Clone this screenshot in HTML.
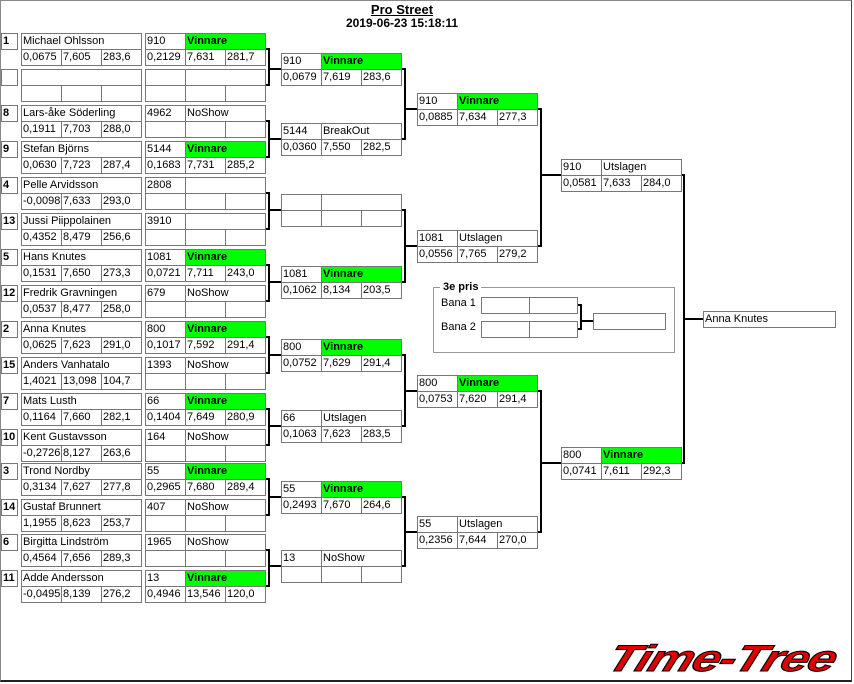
<!DOCTYPE html>
<html><head><meta charset="utf-8"><style>
html,body{margin:0;padding:0;background:#fff}
body{width:854px;height:684px;position:relative;overflow:hidden;font-family:"Liberation Sans",sans-serif;font-size:11px;color:#000}
.fr{position:absolute;left:0;top:0;width:852px;height:682px;border-top:1px solid #888;border-left:1px solid #888;border-right:1px solid #444;border-bottom:2px solid #222;box-sizing:border-box}
.m,.n{position:absolute;width:121px;height:33px}
.m span,.n span,.s{position:absolute;box-sizing:border-box;border:1px solid #777;height:17px;line-height:15px;padding-left:1px;white-space:nowrap;overflow:hidden;background:#fff}
.m span:nth-child(1){left:0;top:0;width:41px}
.m span:nth-child(2){left:40px;top:0;width:81px}
.m span:nth-child(3){left:0;top:16px;width:41px}
.m span:nth-child(4){left:40px;top:16px;width:41px}
.m span:nth-child(5){left:80px;top:16px;width:41px}
.n span:nth-child(1){left:0;top:0;width:121px}
.n span:nth-child(2){left:0;top:16px;width:41px}
.n span:nth-child(3){left:40px;top:16px;width:41px}
.n span:nth-child(4){left:80px;top:16px;width:41px}
.m span.w{background:#00ff00;font-weight:bold}
.s{width:17px;left:1px;font-weight:bold}
svg{position:absolute;left:0;top:0}
</style></head><body>
<div class="fr"></div>
<div style="position:absolute;left:0;width:804px;top:2px;text-align:center;font-weight:bold;font-size:13px;text-decoration:underline">Pro Street</div>
<div style="position:absolute;left:0;width:804px;top:16px;text-align:center;font-weight:bold;font-size:12px">2019-06-23 15:18:11</div>
<svg width="854" height="684">
<g stroke="#000" stroke-width="2" fill="none">
<path d="M265 49H269V85H265M269 69H281"/>
<path d="M265 121H269V157H265M269 139H281"/>
<path d="M265 193H269V229H265M269 210H281"/>
<path d="M265 265H269V301H265M269 282H281"/>
<path d="M265 337H269V373H265M269 355H281"/>
<path d="M265 409H269V445H265M269 426H281"/>
<path d="M265 479H269V515H265M269 497H281"/>
<path d="M265 550H269V586H265M269 566H281"/>
<path d="M401 69H405V139H401M405 109H417"/>
<path d="M401 210H405V282H401M405 246H417"/>
<path d="M401 355H405V426H401M405 391H417"/>
<path d="M401 497H405V566H401M405 532H417"/>
<path d="M537 109H541V246H537M541 175H561"/>
<path d="M537 391H541V532H537M541 463H561"/>
<path d="M681 175H684V463H681M684 319H703"/>
<path d="M577 305H581V329H577M581 321H593"/>
</g>
<rect x="433.5" y="287.5" width="241" height="65" fill="none" stroke="#999"/>
</svg>
<div style="position:absolute;left:440px;top:281px;background:#fff;padding:0 3px;font-weight:bold">3e pris</div>
<div style="position:absolute;left:441px;top:297px">Bana 1</div>
<div style="position:absolute;left:441px;top:321px">Bana 2</div>
<div class="s" style="left:481px;top:297px;width:49px"></div><div class="s" style="left:529px;top:297px;width:49px"></div>
<div class="s" style="left:481px;top:321px;width:49px"></div><div class="s" style="left:529px;top:321px;width:49px"></div>
<div class="s" style="left:593px;top:313px;width:73px"></div>
<div class="s" style="left:703px;top:311px;width:133px;font-weight:normal">Anna Knutes</div>

<div class="s" style="top:33px">1</div><div class="n" style="left:21px;top:33px"><span>Michael Ohlsson</span><span>0,0675</span><span>7,605</span><span>283,6</span></div><div class="m" style="left:145px;top:33px"><span>910</span><span class="w">Vinnare</span><span>0,2129</span><span>7,631</span><span>281,7</span></div>
<div class="s" style="top:69px"></div><div class="n" style="left:21px;top:69px"><span></span><span></span><span></span><span></span></div><div class="m" style="left:145px;top:69px"><span></span><span></span><span></span><span></span><span></span></div>
<div class="s" style="top:105px">8</div><div class="n" style="left:21px;top:105px"><span>Lars-åke Söderling</span><span>0,1911</span><span>7,703</span><span>288,0</span></div><div class="m" style="left:145px;top:105px"><span>4962</span><span>NoShow</span><span></span><span></span><span></span></div>
<div class="s" style="top:141px">9</div><div class="n" style="left:21px;top:141px"><span>Stefan Björns</span><span>0,0630</span><span>7,723</span><span>287,4</span></div><div class="m" style="left:145px;top:141px"><span>5144</span><span class="w">Vinnare</span><span>0,1683</span><span>7,731</span><span>285,2</span></div>
<div class="s" style="top:177px">4</div><div class="n" style="left:21px;top:177px"><span>Pelle Arvidsson</span><span>-0,0098</span><span>7,633</span><span>293,0</span></div><div class="m" style="left:145px;top:177px"><span>2808</span><span></span><span></span><span></span><span></span></div>
<div class="s" style="top:213px">13</div><div class="n" style="left:21px;top:213px"><span>Jussi Piippolainen</span><span>0,4352</span><span>8,479</span><span>256,6</span></div><div class="m" style="left:145px;top:213px"><span>3910</span><span></span><span></span><span></span><span></span></div>
<div class="s" style="top:249px">5</div><div class="n" style="left:21px;top:249px"><span>Hans Knutes</span><span>0,1531</span><span>7,650</span><span>273,3</span></div><div class="m" style="left:145px;top:249px"><span>1081</span><span class="w">Vinnare</span><span>0,0721</span><span>7,711</span><span>243,0</span></div>
<div class="s" style="top:285px">12</div><div class="n" style="left:21px;top:285px"><span>Fredrik Gravningen</span><span>0,0537</span><span>8,477</span><span>258,0</span></div><div class="m" style="left:145px;top:285px"><span>679</span><span>NoShow</span><span></span><span></span><span></span></div>
<div class="s" style="top:321px">2</div><div class="n" style="left:21px;top:321px"><span>Anna Knutes</span><span>0,0625</span><span>7,623</span><span>291,0</span></div><div class="m" style="left:145px;top:321px"><span>800</span><span class="w">Vinnare</span><span>0,1017</span><span>7,592</span><span>291,4</span></div>
<div class="s" style="top:357px">15</div><div class="n" style="left:21px;top:357px"><span>Anders Vanhatalo</span><span>1,4021</span><span>13,098</span><span>104,7</span></div><div class="m" style="left:145px;top:357px"><span>1393</span><span>NoShow</span><span></span><span></span><span></span></div>
<div class="s" style="top:393px">7</div><div class="n" style="left:21px;top:393px"><span>Mats Lusth</span><span>0,1164</span><span>7,660</span><span>282,1</span></div><div class="m" style="left:145px;top:393px"><span>66</span><span class="w">Vinnare</span><span>0,1404</span><span>7,649</span><span>280,9</span></div>
<div class="s" style="top:429px">10</div><div class="n" style="left:21px;top:429px"><span>Kent Gustavsson</span><span>-0,2726</span><span>8,127</span><span>263,6</span></div><div class="m" style="left:145px;top:429px"><span>164</span><span>NoShow</span><span></span><span></span><span></span></div>
<div class="s" style="top:463px">3</div><div class="n" style="left:21px;top:463px"><span>Trond Nordby</span><span>0,3134</span><span>7,627</span><span>277,8</span></div><div class="m" style="left:145px;top:463px"><span>55</span><span class="w">Vinnare</span><span>0,2965</span><span>7,680</span><span>289,4</span></div>
<div class="s" style="top:499px">14</div><div class="n" style="left:21px;top:499px"><span>Gustaf Brunnert</span><span>1,1955</span><span>8,623</span><span>253,7</span></div><div class="m" style="left:145px;top:499px"><span>407</span><span>NoShow</span><span></span><span></span><span></span></div>
<div class="s" style="top:534px">6</div><div class="n" style="left:21px;top:534px"><span>Birgitta Lindström</span><span>0,4564</span><span>7,656</span><span>289,3</span></div><div class="m" style="left:145px;top:534px"><span>1965</span><span>NoShow</span><span></span><span></span><span></span></div>
<div class="s" style="top:570px">11</div><div class="n" style="left:21px;top:570px"><span>Adde Andersson</span><span>-0,0495</span><span>8,139</span><span>276,2</span></div><div class="m" style="left:145px;top:570px"><span>13</span><span class="w">Vinnare</span><span>0,4946</span><span>13,546</span><span>120,0</span></div>

<div class="m" style="left:281px;top:53px"><span>910</span><span class="w">Vinnare</span><span>0,0679</span><span>7,619</span><span>283,6</span></div>
<div class="m" style="left:281px;top:123px"><span>5144</span><span>BreakOut</span><span>0,0360</span><span>7,550</span><span>282,5</span></div>
<div class="m" style="left:281px;top:194px"><span></span><span></span><span></span><span></span><span></span></div>
<div class="m" style="left:281px;top:266px"><span>1081</span><span class="w">Vinnare</span><span>0,1062</span><span>8,134</span><span>203,5</span></div>
<div class="m" style="left:281px;top:339px"><span>800</span><span class="w">Vinnare</span><span>0,0752</span><span>7,629</span><span>291,4</span></div>
<div class="m" style="left:281px;top:410px"><span>66</span><span>Utslagen</span><span>0,1063</span><span>7,623</span><span>283,5</span></div>
<div class="m" style="left:281px;top:481px"><span>55</span><span class="w">Vinnare</span><span>0,2493</span><span>7,670</span><span>264,6</span></div>
<div class="m" style="left:281px;top:550px"><span>13</span><span>NoShow</span><span></span><span></span><span></span></div>

<div class="m" style="left:417px;top:93px"><span>910</span><span class="w">Vinnare</span><span>0,0885</span><span>7,634</span><span>277,3</span></div>
<div class="m" style="left:417px;top:230px"><span>1081</span><span>Utslagen</span><span>0,0556</span><span>7,765</span><span>279,2</span></div>
<div class="m" style="left:417px;top:375px"><span>800</span><span class="w">Vinnare</span><span>0,0753</span><span>7,620</span><span>291,4</span></div>
<div class="m" style="left:417px;top:516px"><span>55</span><span>Utslagen</span><span>0,2356</span><span>7,644</span><span>270,0</span></div>

<div class="m" style="left:561px;top:159px"><span>910</span><span>Utslagen</span><span>0,0581</span><span>7,633</span><span>284,0</span></div>
<div class="m" style="left:561px;top:447px"><span>800</span><span class="w">Vinnare</span><span>0,0741</span><span>7,611</span><span>292,3</span></div>

<div style="position:absolute;left:609px;top:638px;font-size:37px;font-weight:bold;font-style:italic;color:#e00000;-webkit-text-stroke:1px #000;letter-spacing:-1px;transform-origin:0 50%;transform:scaleX(1.36) skewX(-15deg);white-space:nowrap">Time-Tree</div>
</body></html>
